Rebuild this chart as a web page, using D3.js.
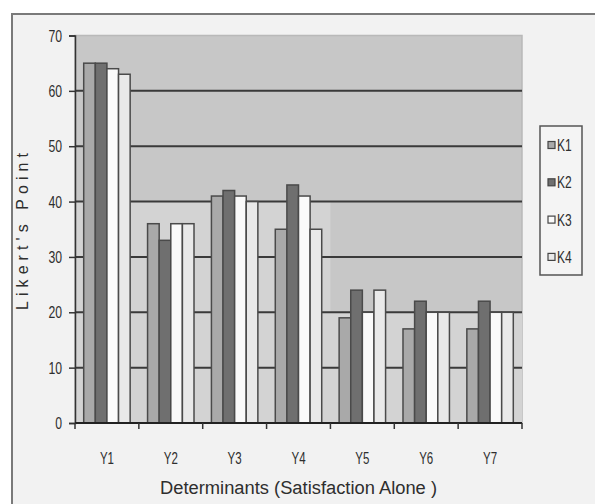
<!DOCTYPE html>
<html>
<head>
<meta charset="utf-8">
<script src="https://cdn.jsdelivr.net/npm/d3@7"></script>
<style>
  html, body { margin: 0; padding: 0; background: #ffffff; }
  svg { display: block; }
  text { font-family: "Liberation Sans", Arial, sans-serif; fill: #2e2e2e; }
</style>
</head>
<body>
<svg id="chart" width="595" height="504"></svg>
<script>
// Categories, series and values
const categories = ["Y1", "Y2", "Y3", "Y4", "Y5", "Y6", "Y7"];
const seriesNames = ["K1", "K2", "K3", "K4"];
const k1 = [65, 36, 41, 35, 19, 17, 17];
const k2 = [65, 33, 42, 43, 24, 22, 22];
const k3 = [64, 36, 41, 41, 20, 20, 20];
const k4 = [63, 36, 40, 35, 24, 20, 20];
const yTicks = [0, 10, 20, 30, 40, 50, 60, 70];
const seriesColors = ["#a9a9a9", "#6f6f6f", "#fafafa", "#e9e9e9"];

const seriesValues = [k1, k2, k3, k4];
const rows = categories.map((c, i) => ({
  cat: c,
  vals: seriesNames.map((s, j) => ({ key: s, value: seriesValues[j][i] }))
}));

// Horizontally condensed text placed at (x, y)
function narrowText(parent, x, y, str, size, squeeze, anchor) {
  return parent.append("text")
    .attr("transform", `translate(${x},${y}) scale(${squeeze},1)`)
    .attr("text-anchor", anchor || "middle")
    .style("font-size", size + "px")
    .text(str);
}

const svg = d3.select("#chart");

// Outer chart frame
svg.append("rect").attr("x", 12).attr("y", 14).attr("width", 600).attr("height", 500)
  .attr("fill", "#f2f2f2").attr("stroke", "#7a7a7a").attr("stroke-width", 2);

const plot = { left: 75, right: 522, top: 35.5, bottom: 423 };

const y = d3.scaleLinear().domain([0, 70]).range([plot.bottom, plot.top]);
const x0 = d3.scaleBand().domain(categories).range([plot.left, plot.right]).padding(0);
const x1 = d3.scaleBand().domain(seriesNames).range([0, x0.bandwidth()])
  .paddingInner(0).paddingOuter(0.75);
const color = d3.scaleOrdinal().domain(seriesNames).range(seriesColors);

// Plot background
svg.append("rect")
  .attr("x", plot.left).attr("y", plot.top)
  .attr("width", plot.right - plot.left).attr("height", plot.bottom - plot.top)
  .attr("fill", "#c7c7c7").attr("stroke", "#b9b9b9").attr("stroke-width", 1.5);

// Lighter lower band behind the bars
const splitX = x0("Y5");
svg.append("path")
  .attr("d", [
    "M", plot.left, plot.bottom,
    "L", plot.left, y(40),
    "L", splitX, y(40),
    "L", splitX, y(20),
    "L", plot.right, y(20),
    "L", plot.right, plot.bottom, "Z"
  ].join(" "))
  .attr("fill", "#d3d3d3");

// Horizontal gridlines
svg.append("g")
  .selectAll("line")
  .data(yTicks.filter(t => t > 0 && t < 70))
  .join("line")
  .attr("x1", plot.left).attr("x2", plot.right)
  .attr("y1", d => y(d)).attr("y2", d => y(d))
  .attr("stroke", "#3a3a3a").attr("stroke-width", 2);

// Bars
svg.append("g")
  .selectAll("g")
  .data(rows)
  .join("g")
  .attr("transform", d => `translate(${x0(d.cat)},0)`)
  .selectAll("rect")
  .data(d => d.vals)
  .join("rect")
  .attr("x", d => x1(d.key))
  .attr("width", x1.bandwidth())
  .attr("y", d => y(d.value))
  .attr("height", d => y(0) - y(d.value))
  .attr("fill", d => color(d.key))
  .attr("stroke", "#4a4a4a")
  .attr("stroke-width", 1.5);

// Y axis
const yAxis = svg.append("g")
  .attr("transform", `translate(${plot.left},0)`)
  .call(d3.axisLeft(y).tickValues(yTicks).tickSize(6).tickFormat(""));
yAxis.select(".domain").attr("stroke", "#333").attr("stroke-width", 1.5);
yAxis.selectAll(".tick line").attr("stroke", "#333").attr("stroke-width", 1.5);
yTicks.forEach(t => {
  narrowText(svg, 62, y(t) + 6, String(t), 17, 0.72, "end").attr("fill", "#3a3a3a");
});

// X axis: ticks at category boundaries, labels at centres
const xAxis = svg.append("g")
  .attr("transform", `translate(0,${plot.bottom})`);
xAxis.append("line")
  .attr("x1", plot.left).attr("x2", plot.right)
  .attr("stroke", "#222").attr("stroke-width", 2);
const bounds = categories.map(c => x0(c)).concat([plot.right]);
xAxis.selectAll("line.tk")
  .data(bounds)
  .join("line")
  .attr("class", "tk")
  .attr("x1", d => d).attr("x2", d => d)
  .attr("y1", 0).attr("y2", 6)
  .attr("stroke", "#333").attr("stroke-width", 1.5);
categories.forEach(c => {
  narrowText(svg, x0(c) + x0.bandwidth() / 2, 464, c, 16, 0.72, "middle");
});

// Axis titles
svg.append("text")
  .attr("x", 160).attr("y", 494)
  .attr("textLength", 277).attr("lengthAdjust", "spacingAndGlyphs")
  .style("font-size", "18px")
  .text("Determinants (Satisfaction Alone )");

svg.append("text")
  .attr("transform", "translate(28,310) rotate(-90)")
  .attr("textLength", 157).attr("lengthAdjust", "spacing")
  .style("font-size", "16px")
  .text("Likert's Point");

// Legend
const legend = svg.append("g");
legend.append("rect")
  .attr("x", 540).attr("y", 126).attr("width", 42).attr("height", 149)
  .attr("fill", "#f4f4f4").attr("stroke", "#555").attr("stroke-width", 1.5);
const items = legend.selectAll("g.item")
  .data(seriesNames)
  .join("g")
  .attr("class", "item")
  .attr("transform", (d, i) => `translate(548,${145 + i * 37.3})`);
items.append("rect")
  .attr("x", 0).attr("y", -3.5).attr("width", 7).attr("height", 7)
  .attr("fill", d => color(d)).attr("stroke", "#444").attr("stroke-width", 1.2);
items.append("text")
  .attr("transform", "translate(9,6) scale(0.75,1)")
  .style("font-size", "16px")
  .text(d => d);
</script>
</body>
</html>
